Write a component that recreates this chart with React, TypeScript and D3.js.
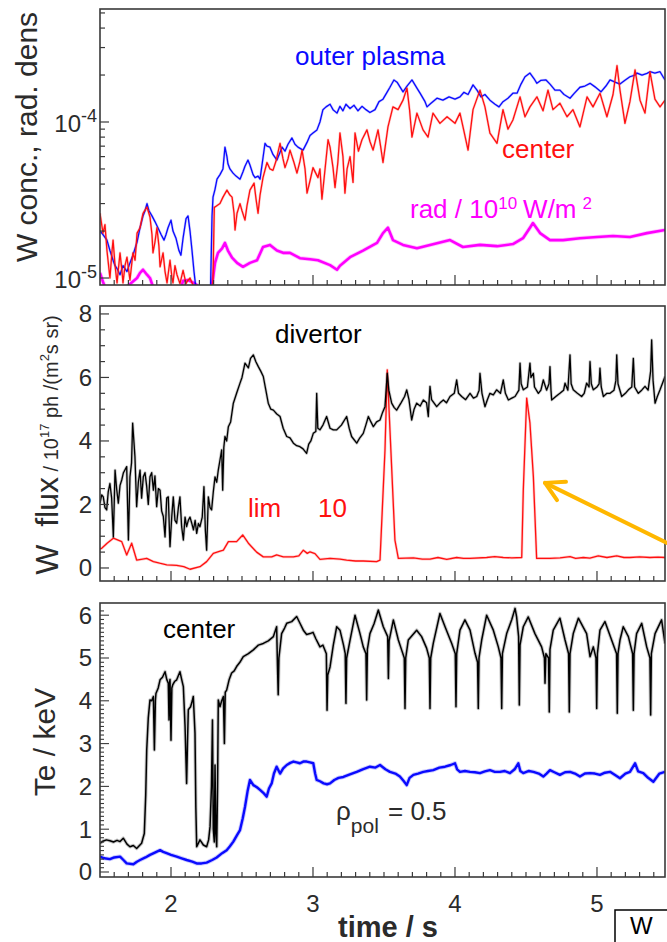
import React from "react";
import * as d3 from "d3";

type Pt = [number, number];

// ---- axes -----------------------------------------------------------------
const timeDomain: [number, number] = [1.5, 5.479];
const timeTicks = [2, 3, 4, 5];
// tungsten concentration is stored in units of 1e-5
const concDomain: [number, number] = [0.902, 53];
const concMajor = [1, 10];
const concMajorExp = ["-5", "-4"];
const fluxDomain: [number, number] = [-0.41, 8.25];
const fluxTicks = [0, 2, 4, 6, 8];
const teDomain: [number, number] = [-0.117, 6.285];
const teTicks = [0, 1, 2, 3, 4, 5, 6];

// ---- W concentration, outer plasma (1e-5) ----------------------------------
const outerPlasma: Pt[] = [
  [1.5, 2.0], [1.521, 1.9], [1.549, 1.75], [1.57, 1.5], [1.592, 1.3], [1.606, 1.2], [1.62, 1.15],
  [1.641, 1.05], [1.662, 1.2], [1.69, 1.1], [1.711, 1.25], [1.732, 1.4], [1.761, 1.7], [1.782, 2.1],
  [1.803, 2.5], [1.817, 2.7], [1.831, 3.0], [1.845, 2.7], [1.866, 2.5], [1.887, 2.3], [1.908, 2.1],
  [1.93, 1.9], [1.951, 1.75], [1.965, 1.9], [1.979, 2.1], [2.0, 2.35], [2.014, 2.0], [2.035, 1.8],
  [2.056, 1.5], [2.07, 1.4], [2.085, 1.8], [2.106, 2.4], [2.12, 2.5], [2.134, 2.0], [2.148, 1.5],
  [2.162, 1.1], [2.176, 0.85], [2.19, 0.6], [2.275, 0.6], [2.289, 2.5], [2.296, 3.3], [2.31, 3.7],
  [2.324, 4.3], [2.345, 4.6], [2.366, 5.0], [2.38, 6.9], [2.394, 6.0], [2.401, 5.4], [2.415, 5.0],
  [2.437, 4.7], [2.458, 4.5], [2.486, 4.3], [2.507, 4.8], [2.521, 5.2], [2.542, 5.7], [2.556, 5.3],
  [2.578, 4.6], [2.592, 4.4], [2.613, 4.5], [2.627, 4.3], [2.648, 5.9], [2.662, 7.3], [2.676, 7.0],
  [2.697, 6.9], [2.718, 6.2], [2.746, 5.7], [2.768, 6.4], [2.782, 6.9], [2.803, 6.5], [2.824, 7.2],
  [2.852, 7.9], [2.873, 7.2], [2.894, 6.9], [2.93, 6.6], [2.958, 7.4], [2.979, 8.2], [3.0, 8.5],
  [3.028, 8.9], [3.049, 10.0], [3.07, 12.0], [3.092, 12.5], [3.12, 13.0], [3.141, 12.0], [3.169, 11.4],
  [3.19, 12.6], [3.211, 11.8], [3.232, 13.0], [3.261, 12.2], [3.289, 12.8], [3.317, 11.8], [3.345, 12.6],
  [3.373, 12.0], [3.401, 11.5], [3.437, 12.0], [3.465, 13.5], [3.493, 14.0], [3.521, 15.5], [3.542, 16.7],
  [3.57, 18.6], [3.592, 18.0], [3.634, 15.6], [3.662, 17.0], [3.697, 18.6], [3.732, 16.5], [3.754, 15.3],
  [3.789, 13.5], [3.803, 12.5], [3.831, 13.2], [3.873, 14.2], [3.915, 13.8], [3.958, 14.5], [4.0, 14.0],
  [4.035, 14.5], [4.063, 15.5], [4.092, 15.0], [4.127, 17.3], [4.155, 16.0], [4.183, 14.5], [4.211, 15.0],
  [4.246, 13.8], [4.282, 13.0], [4.31, 12.5], [4.338, 13.5], [4.373, 14.2], [4.408, 15.3], [4.437, 15.3],
  [4.465, 17.5], [4.493, 19.5], [4.528, 20.6], [4.556, 19.0], [4.577, 17.7], [4.606, 18.5], [4.641, 18.6],
  [4.669, 17.5], [4.704, 16.0], [4.739, 16.0], [4.768, 15.0], [4.81, 14.2], [4.838, 15.2], [4.88, 16.7],
  [4.915, 17.0], [4.951, 17.7], [4.986, 16.8], [5.028, 15.6], [5.063, 17.0], [5.092, 18.6], [5.127, 18.0],
  [5.162, 17.5], [5.197, 18.5], [5.232, 19.5], [5.268, 20.0], [5.282, 20.6], [5.317, 20.0], [5.352, 20.5],
  [5.373, 21.0], [5.408, 20.6], [5.444, 21.0], [5.465, 19.5], [5.479, 18.6],
];

// ---- W concentration, plasma center (1e-5) ---------------------------------
const centerConc: Pt[] = [
  [1.5, 2.6], [1.521, 1.94], [1.535, 2.2], [1.549, 1.5], [1.57, 1.0], [1.585, 1.5], [1.592, 1.75],
  [1.606, 1.2], [1.62, 0.93], [1.641, 1.45], [1.655, 1.1], [1.662, 0.93], [1.676, 1.2], [1.69, 1.36],
  [1.711, 0.97], [1.732, 1.45], [1.747, 1.3], [1.761, 1.94], [1.782, 2.1], [1.803, 2.6], [1.831, 2.85],
  [1.852, 2.46], [1.866, 1.9], [1.873, 1.45], [1.887, 1.7], [1.901, 2.1], [1.915, 1.6], [1.923, 1.18],
  [1.944, 1.45], [1.958, 1.1], [1.972, 0.93], [1.993, 1.3], [2.007, 1.0], [2.014, 0.93], [2.028, 1.2],
  [2.042, 1.05], [2.063, 0.92], [2.085, 1.12], [2.106, 0.92], [2.113, 0.95], [2.134, 1.0], [2.155, 0.9],
  [2.17, 0.85], [2.19, 0.5], [2.28, 0.5], [2.296, 1.0], [2.305, 2.85], [2.31, 2.85], [2.345, 3.0],
  [2.366, 3.3], [2.394, 3.66], [2.415, 3.4], [2.43, 3.3], [2.444, 2.6], [2.451, 2.03], [2.465, 2.6],
  [2.486, 3.0], [2.5, 2.7], [2.521, 2.35], [2.535, 2.9], [2.556, 3.66], [2.585, 4.06], [2.599, 3.2],
  [2.613, 2.6], [2.627, 3.4], [2.648, 4.4], [2.676, 5.5], [2.697, 5.0], [2.718, 4.9], [2.739, 5.6],
  [2.768, 7.3], [2.789, 5.8], [2.803, 5.1], [2.824, 5.8], [2.838, 6.6], [2.866, 5.5], [2.887, 4.7],
  [2.908, 5.6], [2.923, 6.6], [2.944, 5.0], [2.958, 3.5], [2.979, 4.2], [3.0, 5.1], [3.035, 4.4],
  [3.049, 5.0], [3.063, 3.2], [3.085, 5.0], [3.106, 7.7], [3.12, 6.9], [3.141, 5.1], [3.155, 3.8],
  [3.175, 5.5], [3.19, 8.5], [3.211, 6.0], [3.225, 3.5], [3.24, 5.0], [3.261, 6.0], [3.282, 4.1],
  [3.296, 8.5], [3.32, 6.5], [3.345, 7.7], [3.38, 8.9], [3.401, 7.5], [3.423, 6.6], [3.458, 8.9],
  [3.476, 7.0], [3.493, 5.5], [3.528, 9.3], [3.563, 12.5], [3.599, 12.0], [3.634, 13.8], [3.662, 16.5],
  [3.68, 12.0], [3.697, 8.0], [3.732, 11.4], [3.775, 8.9], [3.81, 8.0], [3.845, 11.4], [3.894, 9.8],
  [3.944, 10.8], [4.0, 9.8], [4.035, 11.4], [4.06, 9.0], [4.092, 6.6], [4.127, 12.0], [4.176, 16.0],
  [4.211, 12.5], [4.246, 8.5], [4.296, 7.3], [4.338, 12.0], [4.373, 9.0], [4.408, 10.3], [4.458, 14.5],
  [4.493, 10.8], [4.528, 12.5], [4.577, 14.5], [4.62, 11.8], [4.655, 16.0], [4.69, 12.0], [4.739, 13.2],
  [4.789, 10.8], [4.831, 12.0], [4.88, 9.3], [4.93, 14.5], [4.972, 12.5], [5.021, 15.3], [5.07, 10.8],
  [5.113, 15.0], [5.141, 23.0], [5.162, 16.0], [5.197, 9.8], [5.232, 13.5], [5.268, 21.6], [5.303, 13.8],
  [5.338, 11.4], [5.373, 21.0], [5.408, 14.0], [5.444, 12.5], [5.479, 13.8],
];

// ---- radiation density / 1e10 W/m^2 (same axis) ----------------------------
const radDensity: Pt[] = [
  [1.5, 1.08], [1.52, 0.95], [1.54, 0.85], [1.6, 0.85], [1.64, 0.85], [1.69, 0.88], [1.732, 0.95],
  [1.761, 1.0], [1.782, 1.08], [1.803, 1.13], [1.831, 1.05], [1.852, 1.0], [1.873, 0.88], [1.9, 0.8],
  [1.95, 0.8], [2.0, 0.82], [2.06, 0.8], [2.085, 0.96], [2.12, 0.97], [2.16, 0.93], [2.183, 0.9],
  [2.2, 0.8], [2.28, 0.8], [2.296, 1.0], [2.31, 1.25], [2.331, 1.45], [2.36, 1.55], [2.38, 1.68],
  [2.401, 1.5], [2.43, 1.35], [2.465, 1.25], [2.507, 1.18], [2.556, 1.25], [2.606, 1.3], [2.648, 1.58],
  [2.697, 1.63], [2.746, 1.5], [2.789, 1.45], [2.838, 1.45], [2.908, 1.34], [2.979, 1.32], [3.035, 1.3],
  [3.12, 1.21], [3.169, 1.13], [3.19, 1.2], [3.261, 1.36], [3.352, 1.5], [3.451, 1.68], [3.493, 1.94],
  [3.528, 2.1], [3.563, 1.75], [3.634, 1.63], [3.732, 1.55], [3.824, 1.63], [3.965, 1.75], [4.056, 1.58],
  [4.176, 1.63], [4.296, 1.6], [4.408, 1.65], [4.479, 1.8], [4.528, 2.1], [4.549, 2.25], [4.599, 1.94],
  [4.669, 1.75], [4.761, 1.75], [4.88, 1.8], [5.0, 1.83], [5.113, 1.86], [5.232, 1.83], [5.352, 1.94],
  [5.479, 2.03],
];

// ---- W flux, divertor (1e17 ph / m^2 s sr) ---------------------------------
const divertorFlux: Pt[] = [
  [1.5, 2.04], [1.512, 2.3], [1.523, 2.24], [1.535, 1.9], [1.547, 1.83], [1.558, 2.4], [1.57, 2.66],
  [1.582, 2.2], [1.594, 0.98], [1.606, 3.08], [1.617, 2.5], [1.629, 2.04], [1.641, 2.6], [1.653, 2.77],
  [1.665, 3.0], [1.688, 3.19], [1.7, 0.88], [1.711, 2.87], [1.722, 3.3], [1.73, 4.56], [1.746, 3.51],
  [1.758, 1.93], [1.77, 2.7], [1.782, 3.08], [1.793, 2.2], [1.805, 2.87], [1.817, 3.0], [1.829, 2.56],
  [1.84, 2.0], [1.852, 2.87], [1.864, 3.0], [1.876, 2.45], [1.887, 2.9], [1.899, 1.93], [1.911, 2.5],
  [1.923, 2.45], [1.934, 1.8], [1.946, 1.62], [1.958, 0.98], [1.97, 2.2], [1.981, 2.24], [1.993, 0.67],
  [2.005, 1.6], [2.016, 2.24], [2.028, 1.5], [2.04, 1.41], [2.052, 1.9], [2.063, 2.24], [2.075, 1.3],
  [2.087, 0.88], [2.099, 1.6], [2.11, 1.3], [2.122, 1.5], [2.134, 1.6], [2.146, 1.41], [2.158, 1.2],
  [2.17, 1.5], [2.181, 1.09], [2.193, 1.4], [2.204, 1.3], [2.22, 1.6], [2.232, 2.56], [2.242, 1.2],
  [2.251, 0.56], [2.263, 2.24], [2.275, 1.9], [2.286, 1.83], [2.298, 2.4], [2.31, 2.87], [2.322, 2.7],
  [2.333, 3.08], [2.345, 3.4], [2.357, 3.72], [2.364, 2.45], [2.372, 3.8], [2.38, 4.14], [2.392, 4.0],
  [2.404, 4.45], [2.42, 4.6], [2.439, 5.19], [2.462, 5.5], [2.486, 5.82], [2.5, 6.0], [2.521, 6.45],
  [2.545, 6.3], [2.56, 6.6], [2.58, 6.71], [2.597, 6.5], [2.615, 6.34], [2.632, 6.2], [2.65, 6.03],
  [2.668, 5.6], [2.685, 5.19], [2.703, 5.0], [2.721, 4.97], [2.745, 4.85], [2.768, 4.77], [2.79, 4.4],
  [2.815, 4.14], [2.838, 4.1], [2.862, 3.93], [2.885, 3.85], [2.908, 3.82], [2.93, 3.75], [2.955, 3.61],
  [2.97, 3.9], [2.985, 4.0], [3.002, 4.24], [3.02, 4.3], [3.026, 5.5], [3.034, 4.4], [3.049, 4.35],
  [3.07, 4.5], [3.096, 4.77], [3.12, 4.4], [3.143, 4.35], [3.167, 4.35], [3.2, 4.5], [3.237, 4.77],
  [3.255, 4.4], [3.272, 4.14], [3.308, 3.93], [3.33, 4.1], [3.354, 4.24], [3.372, 4.5], [3.39, 4.77],
  [3.408, 4.6], [3.425, 4.45], [3.448, 4.6], [3.472, 4.66], [3.49, 4.9], [3.507, 5.08], [3.523, 6.13],
  [3.534, 5.6], [3.554, 5.19], [3.572, 5.05], [3.589, 4.97], [3.62, 5.2], [3.645, 5.4], [3.66, 5.61],
  [3.676, 5.3], [3.695, 4.66], [3.712, 5.0], [3.73, 5.19], [3.755, 5.1], [3.777, 5.29], [3.8, 5.2],
  [3.812, 4.77], [3.818, 5.3], [3.824, 5.72], [3.835, 5.3], [3.871, 5.08], [3.895, 5.2], [3.918, 5.29],
  [3.94, 5.2], [3.965, 5.4], [3.995, 5.5], [4.012, 5.92], [4.025, 5.5], [4.047, 5.4], [4.075, 5.3],
  [4.106, 5.5], [4.13, 5.35], [4.153, 5.4], [4.17, 5.6], [4.176, 6.13], [4.19, 5.5], [4.211, 5.08],
  [4.228, 5.3], [4.246, 5.5], [4.27, 5.45], [4.293, 5.61], [4.32, 5.5], [4.34, 5.92], [4.355, 5.5],
  [4.376, 5.29], [4.4, 5.35], [4.423, 5.4], [4.45, 5.6], [4.458, 6.45], [4.466, 5.8], [4.481, 5.61],
  [4.51, 5.7], [4.528, 6.45], [4.535, 6.0], [4.552, 6.13], [4.56, 5.7], [4.587, 5.5], [4.605, 5.6],
  [4.622, 5.92], [4.645, 5.6], [4.662, 5.8], [4.669, 6.34], [4.676, 5.6], [4.681, 5.29], [4.71, 5.4],
  [4.739, 5.5], [4.765, 5.6], [4.775, 5.82], [4.795, 5.6], [4.81, 6.71], [4.818, 5.8], [4.833, 5.61],
  [4.862, 5.5], [4.892, 5.4], [4.91, 5.5], [4.927, 5.82], [4.944, 5.7], [4.951, 6.5], [4.96, 5.8],
  [4.974, 5.61], [5.0, 5.7], [5.015, 5.8], [5.021, 6.29], [5.03, 5.7], [5.045, 5.4], [5.07, 5.5],
  [5.092, 5.5], [5.12, 5.6], [5.133, 5.9], [5.139, 6.71], [5.148, 5.8], [5.174, 5.4], [5.2, 5.5],
  [5.221, 5.61], [5.245, 5.7], [5.256, 6.6], [5.265, 5.7], [5.291, 5.5], [5.315, 5.6], [5.338, 5.72],
  [5.36, 5.6], [5.378, 6.2], [5.385, 7.18], [5.395, 5.9], [5.409, 5.19], [5.425, 5.4], [5.444, 5.61],
  [5.46, 5.8], [5.479, 6.03],
];

// ---- W flux, limiter x10 ---------------------------------------------------
const limiterFlux: Pt[] = [
  [1.5, 0.6], [1.512, 0.62], [1.55, 0.78], [1.594, 0.94], [1.653, 0.83], [1.688, 0.41], [1.723, 0.78],
  [1.758, 0.25], [1.8, 0.28], [1.829, 0.3], [1.876, 0.2], [1.92, 0.15], [1.97, 0.1], [2.04, 0.08],
  [2.09, 0.04], [2.134, -0.04], [2.204, 0.04], [2.251, 0.2], [2.298, 0.46], [2.34, 0.52], [2.369, 0.56],
  [2.404, 0.83], [2.462, 0.83], [2.505, 1.04], [2.545, 0.78], [2.603, 0.5], [2.65, 0.35], [2.709, 0.35],
  [2.744, 0.41], [2.791, 0.35], [2.862, 0.35], [2.9, 0.38], [2.932, 0.56], [2.96, 0.46], [2.979, 0.51],
  [3.014, 0.45], [3.049, 0.27], [3.12, 0.3], [3.19, 0.28], [3.237, 0.25], [3.3, 0.22], [3.354, 0.22],
  [3.448, 0.2], [3.472, 0.25], [3.507, 3.71], [3.523, 6.24], [3.542, 4.35], [3.577, 0.88], [3.601, 0.3],
  [3.707, 0.32], [3.77, 0.28], [3.824, 0.28], [3.88, 0.33], [3.942, 0.27], [4.012, 0.33], [4.06, 0.3],
  [4.106, 0.3], [4.223, 0.33], [4.28, 0.36], [4.34, 0.33], [4.4, 0.32], [4.47, 0.33], [4.481, 2.45],
  [4.505, 5.35], [4.528, 4.56], [4.552, 2.87], [4.575, 0.3], [4.62, 0.3], [4.669, 0.3], [4.74, 0.32],
  [4.81, 0.36], [4.85, 0.3], [4.904, 0.33], [4.95, 0.31], [5.009, 0.38], [5.07, 0.33], [5.139, 0.38],
  [5.19, 0.33], [5.232, 0.33], [5.3, 0.35], [5.373, 0.33], [5.43, 0.34], [5.479, 0.33],
];

// ---- electron temperature, center (keV) ------------------------------------
const teCenter: Pt[] = [
  [1.5, 0.67], [1.52, 0.72], [1.545, 0.75], [1.57, 0.73], [1.595, 0.7], [1.62, 0.74], [1.641, 0.71],
  [1.664, 0.79], [1.69, 0.65], [1.711, 0.59], [1.735, 0.62], [1.758, 0.55], [1.793, 0.67], [1.812, 0.9],
  [1.822, 1.8], [1.829, 2.85], [1.84, 3.6], [1.852, 4.02], [1.864, 4.0], [1.876, 4.1], [1.883, 2.85],
  [1.89, 4.0], [1.894, 4.17], [1.91, 4.3], [1.923, 4.49], [1.94, 4.55], [1.958, 4.68], [1.97, 4.5],
  [1.981, 4.41], [1.986, 3.55], [1.99, 4.4], [1.993, 4.5], [2.0, 3.08], [2.006, 4.3], [2.012, 4.37],
  [2.025, 4.45], [2.04, 4.49], [2.063, 4.68], [2.075, 4.5], [2.087, 4.33], [2.099, 3.4], [2.11, 2.07],
  [2.116, 3.0], [2.122, 3.79], [2.138, 3.86], [2.15, 4.0], [2.157, 4.1], [2.169, 3.24], [2.175, 1.5],
  [2.181, 0.59], [2.204, 0.75], [2.228, 0.63], [2.251, 0.59], [2.265, 0.75], [2.275, 1.06], [2.285, 2.0],
  [2.292, 3.55], [2.298, 1.0], [2.305, 0.7], [2.31, 2.5], [2.316, 0.9], [2.322, 0.59], [2.328, 2.0],
  [2.333, 4.02], [2.345, 3.86], [2.357, 4.0], [2.369, 4.1], [2.376, 3.0], [2.382, 4.2], [2.392, 4.25],
  [2.41, 4.5], [2.427, 4.65], [2.445, 4.7], [2.462, 4.8], [2.485, 4.9], [2.509, 5.03], [2.545, 5.1],
  [2.58, 5.19], [2.615, 5.3], [2.65, 5.34], [2.685, 5.4], [2.721, 5.5], [2.744, 5.73], [2.75, 4.8],
  [2.755, 4.14], [2.76, 5.0], [2.779, 5.57], [2.8, 5.7], [2.815, 5.81], [2.85, 5.85], [2.885, 5.97],
  [2.91, 5.8], [2.932, 5.65], [2.955, 5.55], [2.979, 5.57], [3.0, 5.6], [3.02, 5.45], [3.049, 5.26],
  [3.07, 5.3], [3.094, 5.1], [3.099, 3.78], [3.104, 4.6], [3.12, 4.79], [3.143, 5.3], [3.167, 5.73],
  [3.19, 5.65], [3.215, 5.3], [3.227, 5.1], [3.232, 3.94], [3.237, 5.0], [3.261, 5.42], [3.296, 6.0],
  [3.331, 5.57], [3.354, 5.26], [3.373, 5.1], [3.378, 4.02], [3.383, 5.2], [3.401, 5.57], [3.43, 5.8],
  [3.46, 6.12], [3.495, 5.73], [3.526, 5.5], [3.531, 4.52], [3.536, 5.4], [3.566, 5.89], [3.601, 5.42],
  [3.624, 5.19], [3.643, 5.0], [3.648, 3.82], [3.653, 5.0], [3.671, 5.42], [3.73, 5.65], [3.765, 5.5],
  [3.8, 5.23], [3.819, 5.0], [3.824, 3.82], [3.829, 5.0], [3.847, 5.34], [3.894, 6.04], [3.93, 5.73],
  [3.977, 5.34], [4.002, 5.1], [4.007, 3.86], [4.012, 5.1], [4.035, 5.65], [4.07, 5.89], [4.106, 5.65],
  [4.141, 5.11], [4.159, 4.9], [4.164, 3.82], [4.169, 5.0], [4.188, 5.42], [4.223, 6.0], [4.27, 5.65],
  [4.305, 5.26], [4.324, 5.0], [4.329, 3.82], [4.334, 5.1], [4.364, 5.57], [4.4, 5.9], [4.423, 6.16],
  [4.434, 5.96], [4.448, 5.5], [4.453, 3.9], [4.458, 5.3], [4.481, 5.73], [4.516, 5.96], [4.563, 5.57],
  [4.61, 5.26], [4.63, 5.0], [4.634, 4.41], [4.64, 5.1], [4.659, 5.0], [4.664, 3.74], [4.669, 5.2],
  [4.692, 5.65], [4.739, 5.93], [4.775, 5.42], [4.8, 5.1], [4.805, 3.74], [4.81, 5.1], [4.833, 5.57],
  [4.869, 5.93], [4.927, 5.57], [4.951, 5.03], [4.974, 5.26], [4.993, 5.0], [4.998, 3.82], [5.003, 5.1],
  [5.021, 5.65], [5.056, 5.85], [5.103, 5.42], [5.138, 5.1], [5.143, 3.71], [5.148, 5.1], [5.162, 5.42],
  [5.185, 5.73], [5.221, 5.5], [5.251, 5.1], [5.256, 3.78], [5.261, 5.1], [5.279, 5.57], [5.315, 5.81],
  [5.35, 5.26], [5.373, 5.0], [5.378, 3.67], [5.383, 5.1], [5.409, 5.57], [5.455, 5.89], [5.479, 5.34],
];

// ---- electron temperature at rho_pol = 0.5 (keV) ----------------------------
const teHalfRadius: Pt[] = [
  [1.5, 0.36], [1.53, 0.32], [1.57, 0.3], [1.6, 0.34], [1.641, 0.36], [1.665, 0.28], [1.688, 0.2],
  [1.735, 0.18], [1.76, 0.24], [1.782, 0.28], [1.82, 0.34], [1.852, 0.4], [1.89, 0.46], [1.923, 0.51],
  [1.945, 0.47], [1.969, 0.44], [2.0, 0.4], [2.04, 0.36], [2.075, 0.32], [2.11, 0.28], [2.15, 0.24],
  [2.181, 0.2], [2.215, 0.2], [2.251, 0.22], [2.29, 0.28], [2.322, 0.34], [2.36, 0.44], [2.392, 0.51],
  [2.415, 0.6], [2.439, 0.71], [2.465, 0.86], [2.486, 0.98], [2.505, 1.25], [2.521, 1.52], [2.54, 1.9],
  [2.556, 2.15], [2.58, 2.03], [2.605, 1.98], [2.627, 1.92], [2.65, 1.85], [2.674, 1.76], [2.69, 1.95],
  [2.709, 2.07], [2.725, 2.3], [2.744, 2.46], [2.768, 2.3], [2.79, 2.42], [2.815, 2.5], [2.84, 2.55],
  [2.862, 2.58], [2.885, 2.56], [2.908, 2.54], [2.932, 2.58], [2.955, 2.58], [2.979, 2.56], [3.002, 2.54],
  [3.015, 2.3], [3.026, 2.15], [3.049, 2.12], [3.075, 2.07], [3.099, 2.05], [3.12, 2.07], [3.15, 2.15],
  [3.18, 2.2], [3.214, 2.22], [3.26, 2.28], [3.308, 2.34], [3.35, 2.4], [3.401, 2.46], [3.44, 2.44],
  [3.472, 2.5], [3.51, 2.4], [3.542, 2.34], [3.58, 2.3], [3.612, 2.23], [3.64, 2.12], [3.66, 2.03],
  [3.68, 2.2], [3.707, 2.27], [3.74, 2.3], [3.777, 2.34], [3.81, 2.36], [3.847, 2.38], [3.89, 2.44],
  [3.93, 2.46], [3.97, 2.5], [4.0, 2.54], [4.015, 2.4], [4.035, 2.34], [4.07, 2.36], [4.106, 2.34],
  [4.14, 2.33], [4.176, 2.31], [4.21, 2.35], [4.246, 2.38], [4.28, 2.34], [4.317, 2.34], [4.35, 2.36],
  [4.387, 2.31], [4.42, 2.4], [4.446, 2.54], [4.46, 2.36], [4.481, 2.31], [4.52, 2.36], [4.552, 2.34],
  [4.59, 2.3], [4.622, 2.23], [4.645, 2.3], [4.669, 2.38], [4.7, 2.33], [4.739, 2.27], [4.775, 2.33],
  [4.81, 2.34], [4.845, 2.3], [4.88, 2.23], [4.915, 2.3], [4.951, 2.31], [4.985, 2.3], [5.021, 2.27],
  [5.056, 2.32], [5.092, 2.34], [5.13, 2.26], [5.162, 2.19], [5.2, 2.3], [5.232, 2.34], [5.268, 2.54],
  [5.29, 2.35], [5.326, 2.31], [5.36, 2.2], [5.397, 2.11], [5.44, 2.3], [5.479, 2.34],
];

// arrow pointing at the second limiter burst, in (time, flux) coordinates
const arrowTip: Pt = [4.634, 2.68];
const arrowTail: Pt = [5.493, 0.79];

// ---- layout ----------------------------------------------------------------
const WIDTH = 667;
const HEIGHT = 942;
const PLOT_L = 100;
const PLOT_R = 665;
const concBox = { top: 9, bottom: 285 };
const fluxBox = { top: 306, bottom: 581 };
const teBox = { top: 603, bottom: 877 };

const FONT = "'Liberation Sans', Arial, Helvetica, sans-serif";
const INK = "#2b2b2b";
const FRAME = "#3a3a3a";
const BLUE = "#0a0aff";
const RED = "#ff1010";
const MAGENTA = "#ff00ff";
const AMBER = "#ffb700";

const x = d3.scaleLinear().domain(timeDomain).range([PLOT_L, PLOT_R]);
const yConc = d3.scaleLog().domain(concDomain).range([concBox.bottom, concBox.top]);
const yFlux = d3.scaleLinear().domain(fluxDomain).range([fluxBox.bottom, fluxBox.top]);
const yTe = d3.scaleLinear().domain(teDomain).range([teBox.bottom, teBox.top]);

const minorTimes = d3.range(16, 55).map((i) => i / 10).filter((t) => Math.abs(t - Math.round(t)) > 1e-6);

function linePath(data: Pt[], y: (v: number) => number) {
  return d3
    .line<Pt>()
    .x((d) => x(d[0]))
    .y((d) => y(d[1]))(data) as string;
}

function Clip({ box, id }: { box: { top: number; bottom: number }; id: string }) {
  return (
    <clipPath id={id}>
      <rect x={PLOT_L} y={box.top} width={PLOT_R - PLOT_L} height={box.bottom - box.top} />
    </clipPath>
  );
}

function TimeTicks({ box }: { box: { top: number; bottom: number } }) {
  return (
    <g stroke={FRAME} strokeWidth={1.2}>
      {minorTimes.map((t) => (
        <line key={"m" + t} x1={x(t)} x2={x(t)} y1={box.bottom} y2={box.bottom - 5} />
      ))}
      {timeTicks.map((t) => (
        <line key={"M" + t} x1={x(t)} x2={x(t)} y1={box.bottom} y2={box.bottom - 10} />
      ))}
    </g>
  );
}

function Border({ box }: { box: { top: number; bottom: number } }) {
  return (
    <rect
      x={PLOT_L}
      y={box.top}
      width={PLOT_R - PLOT_L}
      height={box.bottom - box.top}
      fill="none"
      stroke={FRAME}
      strokeWidth={1.6}
    />
  );
}

function Trace({ data, y, color, width, clip, halo }: { data: Pt[]; y: (v: number) => number; color: string; width: number; clip: string; halo?: number }) {
  const d = linePath(data, y);
  return (
    <g clipPath={`url(#${clip})`} fill="none" strokeLinejoin="round">
      {halo ? <path d={d} stroke={color} strokeWidth={width + halo} strokeOpacity={0.22} /> : null}
      <path d={d} stroke={color} strokeWidth={width} />
    </g>
  );
}

export default function App() {
  const concMinor: number[] = [];
  [1, 10].forEach((dec) => {
    for (let k = 2; k <= 9; k++) {
      const v = k * dec;
      if (v > concDomain[0] && v < concDomain[1]) concMinor.push(v);
    }
  });
  const fluxMinor = d3.range(0, 8.01, 0.5).filter((v) => v % 2 !== 0);
  const teMinor = d3.range(0, 62).map((i) => i / 10).filter((v) => Math.abs(v - Math.round(v)) > 1e-6);

  // arrow geometry in pixels
  const tipX = x(arrowTip[0]);
  const tipY = yFlux(arrowTip[1]);
  const tailX = x(arrowTail[0]);
  const tailY = yFlux(arrowTail[1]);
  const ang = Math.atan2(tailY - tipY, tailX - tipX);
  const headLen = 21;
  const spread = (29 * Math.PI) / 180;
  const wing1: Pt = [tipX + headLen * Math.cos(ang - spread), tipY + headLen * Math.sin(ang - spread)];
  const wing2: Pt = [tipX + headLen * Math.cos(ang + spread), tipY + headLen * Math.sin(ang + spread)];

  return (
    <div style={{ position: "absolute", left: 0, top: 0 }}>
      <svg width={WIDTH} height={HEIGHT} viewBox={`0 0 ${WIDTH} ${HEIGHT}`} style={{ display: "block", background: "#fff" }} fontFamily={FONT}>
        <rect x={0} y={0} width={WIDTH} height={HEIGHT} fill="#fff" />
        <defs>
          <Clip box={concBox} id="clip-conc" />
          <Clip box={fluxBox} id="clip-flux" />
          <Clip box={teBox} id="clip-te" />
        </defs>

        {/* ---------- panel 1: W concentration ---------- */}
        <Trace data={radDensity} y={yConc} color={MAGENTA} width={2.6} clip="clip-conc" halo={1.6} />
        <Trace data={outerPlasma} y={yConc} color={BLUE} width={1.3} clip="clip-conc" halo={1.2} />
        <Trace data={centerConc} y={yConc} color={RED} width={1.3} clip="clip-conc" halo={1.2} />
        <Border box={concBox} />
        <g stroke={FRAME} strokeWidth={1.2}>
          {concMinor.map((v) => (
            <line key={v} x1={PLOT_L} x2={PLOT_L + 5} y1={yConc(v)} y2={yConc(v)} />
          ))}
          {concMajor.map((v) => (
            <line key={"M" + v} x1={PLOT_L} x2={PLOT_L + 9} y1={yConc(v)} y2={yConc(v)} />
          ))}
        </g>
        <TimeTicks box={concBox} />
        {concMajor.map((v, i) => (
          <text key={"cl" + v} x={97} y={yConc(v) + 10} textAnchor="end" fontSize={24} fill={INK}>
            10
            <tspan dy={-10} fontSize={18}>{concMajorExp[i]}</tspan>
          </text>
        ))}
        <text x={295} y={65} fontSize={26} fill={BLUE}>outer plasma</text>
        <text x={502} y={158} fontSize={26} fill={RED}>center</text>
        <text x={410} y={218} fontSize={26} fill={MAGENTA}>
          rad / 10
          <tspan dy={-9} fontSize={17}>10</tspan>
          <tspan dy={9} dx={6}>W/m</tspan>
          <tspan dy={-9} dx={6} fontSize={17}>2</tspan>
        </text>
        <text transform="translate(37,137) rotate(-90)" textAnchor="middle" fontSize={30} fill={INK}>
          W conc., rad. dens
        </text>

        {/* ---------- panel 2: W flux ---------- */}
        <Trace data={limiterFlux} y={yFlux} color={RED} width={1.3} clip="clip-flux" halo={1.4} />
        <Trace data={divertorFlux} y={yFlux} color="#000" width={1.3} clip="clip-flux" halo={1.6} />
        <Border box={fluxBox} />
        <g stroke={FRAME} strokeWidth={1.2}>
          {fluxMinor.map((v) => (
            <line key={v} x1={PLOT_L} x2={PLOT_L + 5} y1={yFlux(v)} y2={yFlux(v)} />
          ))}
          {fluxTicks.map((v) => (
            <line key={"M" + v} x1={PLOT_L} x2={PLOT_L + 9} y1={yFlux(v)} y2={yFlux(v)} />
          ))}
        </g>
        <TimeTicks box={fluxBox} />
        {fluxTicks.map((v) => (
          <text key={"fl" + v} x={92} y={yFlux(v) + 8.5} textAnchor="end" fontSize={24} fill={INK}>
            {v}
          </text>
        ))}
        <text x={275} y={343} fontSize={26} fill="#000">divertor</text>
        <text x={248} y={517} fontSize={26} fill={RED}>lim</text>
        <text x={318} y={517} fontSize={26} fill={RED}>10</text>
        <text transform="translate(58,445) rotate(-90)" textAnchor="middle" fill={INK} style={{ whiteSpace: "pre" }}>
          <tspan fontSize={32}>W  flux</tspan>
          <tspan fontSize={20}> / 10</tspan>
          <tspan fontSize={13} dy={-9}>17</tspan>
          <tspan fontSize={20} dy={9}> ph /(m</tspan>
          <tspan fontSize={13} dy={-9}>2</tspan>
          <tspan fontSize={20} dy={9}>s sr)</tspan>
        </text>
        <g stroke={AMBER} strokeWidth={4} strokeLinecap="round" fill="none">
          <line x1={tailX} y1={tailY} x2={tipX} y2={tipY} />
          <polyline points={`${wing1[0]},${wing1[1]} ${tipX},${tipY} ${wing2[0]},${wing2[1]}`} strokeLinejoin="round" />
        </g>

        {/* ---------- panel 3: electron temperature ---------- */}
        <Trace data={teHalfRadius} y={yTe} color={BLUE} width={2.4} clip="clip-te" halo={1.8} />
        <Trace data={teCenter} y={yTe} color="#000" width={1.5} clip="clip-te" halo={2.0} />
        <Border box={teBox} />
        <g stroke={FRAME} strokeWidth={1.1}>
          {teMinor.map((v) => (
            <line key={v} x1={PLOT_L} x2={PLOT_L + 4} y1={yTe(v)} y2={yTe(v)} />
          ))}
          {teTicks.map((v) => (
            <line key={"M" + v} x1={PLOT_L} x2={PLOT_L + 9} y1={yTe(v)} y2={yTe(v)} />
          ))}
        </g>
        <TimeTicks box={teBox} />
        {teTicks.map((v) => (
          <text key={"tl" + v} x={92} y={yTe(v) + 8.5} textAnchor="end" fontSize={24} fill={INK}>
            {v}
          </text>
        ))}
        {timeTicks.map((t) => (
          <text key={"xl" + t} x={x(t)} y={912} textAnchor="middle" fontSize={24} fill={INK}>
            {t}
          </text>
        ))}
        <text x={338} y={937} fontSize={29} fontWeight="bold" fill={INK}>time / s</text>
        <text x={163} y={638} fontSize={26} fill="#000">center</text>
        <text x={336} y={820} fontSize={26} fill={INK}>
          ρ
          <tspan fontSize={21} dy={13}>pol</tspan>
          <tspan x={388} dy={-13}>= 0.5</tspan>
        </text>
        <text transform="translate(55,742) rotate(-90)" textAnchor="middle" fontSize={30} fill={INK}>
          Te / keV
        </text>

        {/* boxed label entering at the lower right */}
        <rect x={615} y={910} width={90} height={60} fill="#fff" stroke="#000" strokeWidth={1.5} />
        <text x={630} y={934} fontSize={24} fill="#000">W</text>
      </svg>
    </div>
  );
}
